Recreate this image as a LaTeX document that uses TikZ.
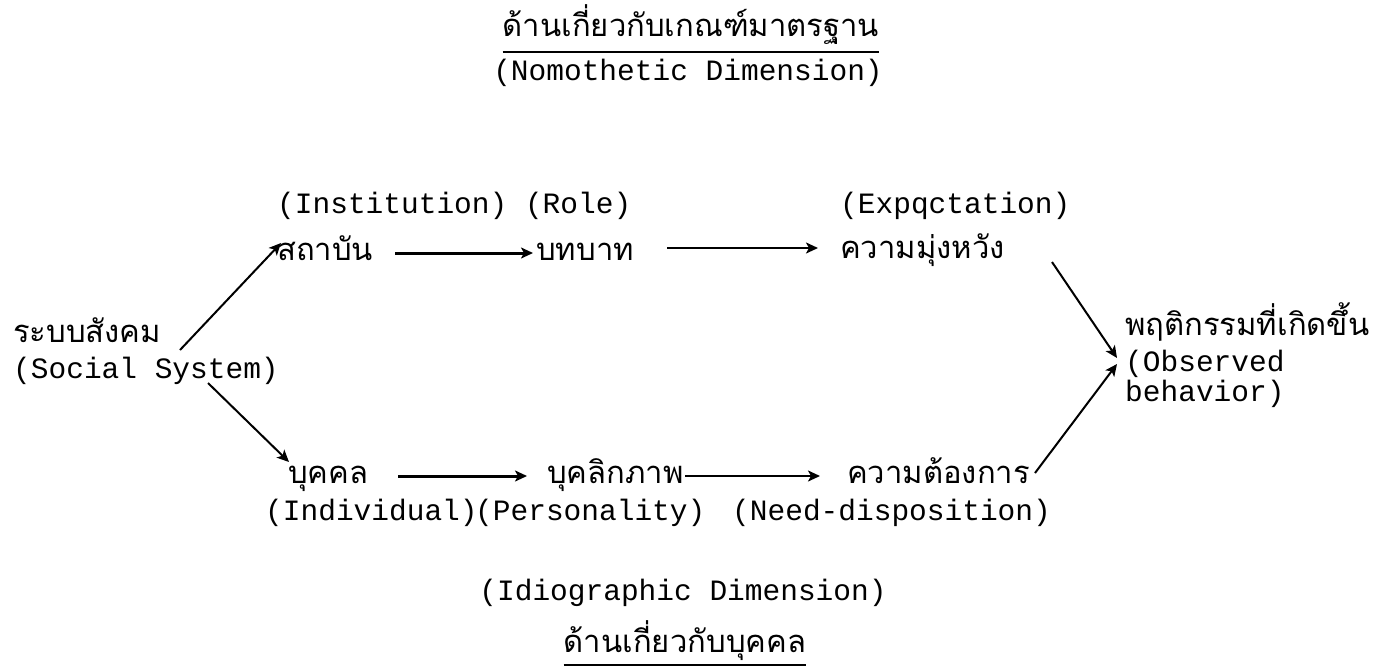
\documentclass[tikz,border=0pt]{standalone}
\usepackage{fontspec}
\usetikzlibrary{arrows.meta}
\newfontfamily\thaifont[Script=Thai]{Loma}
\newfontfamily\monofont{Liberation Mono}
\begin{document}
\begin{tikzpicture}[x=1pt,y=-1pt,
  th/.style={font=\thaifont\fontsize{31}{32}\selectfont, inner sep=0pt, anchor=base west},
  en/.style={font=\monofont\fontsize{29.5}{30}\selectfont, inner sep=0pt, anchor=base west},
  arr/.style={line width=2pt, -{Stealth[length=12pt,width=11pt,inset=3pt]}},
  arrb/.style={line width=3pt, -{Stealth[length=12pt,width=11pt,inset=3pt]}},
  uline/.style={line width=2pt}]
\useasboundingbox (0,0) rectangle (1385,670);
\fill[white] (0,0) rectangle (1385,670);
% headings
\node[th, anchor=base] (ttop) at (691,36) {ด้านเกี่ยวกับเกณฑ์มาตรฐาน};
\node[en, anchor=base] (nomo) at (688,80) {(Nomothetic Dimension)};
\node[en, anchor=base] (idio) at (683,600) {(Idiographic Dimension)};
\node[th, anchor=base] (tbot) at (685,652) {ด้านเกี่ยวกับบุคคล};
\draw[uline] ([yshift=-16pt]ttop.base west) -- ([yshift=-16pt]ttop.base east);
\draw[uline] ([yshift=-13pt]tbot.base west) -- ([yshift=-13pt]tbot.base east);
% left
\node[th] (rabob) at (13,342) {ระบบสังคม};
\node[en] (soceng) at (13,378) {(Social System)};
% top row
\node[en] (insteng) at (277,213) {(Institution) (Role)};
\node[th] (sathaban) at (277,260) {สถาบัน};
\node[th] (bothbat) at (536,260) {บทบาท};
\node[en] (expeng) at (840,213) {(Expqctation)};
\node[th] (khwammung) at (840,258) {ความมุ่งหวัง};
% bottom row
\node[th] (bukkhon) at (288,483) {บุคคล};
\node[th] (bukkhalik) at (547,483) {บุคลิกภาพ};
\node[th] (tongkan) at (847,483) {ความต้องการ};
\node[en] (indeng) at (265,520) {(Individual)};
\node[en] (perseng) at (475,520) {(Personality)};
\node[en] (needeng) at (732,520) {(Need-disposition)};
% right
\node[th] (phruet) at (1125,335) {พฤติกรรมที่เกิดขึ้น};
\node[en] (obs) at (1125,371) {(Observed};
\node[en] (beh) at (1125,401) {behavior)};
% connectors
\draw[arr] ([xshift=167pt,yshift=-8pt]rabob.base west) -- ([xshift=4pt,yshift=17pt]sathaban.base west);
\draw[arr] ([xshift=195pt,yshift=-5pt]soceng.base west) -- ([xshift=1pt,yshift=21pt]bukkhon.base west);
\draw[arrb] ([xshift=118pt,yshift=7pt]sathaban.base west) -- ([xshift=-3pt,yshift=7pt]bothbat.base west);
\draw[arr] ([xshift=131pt,yshift=12pt]bothbat.base west) -- ([xshift=-22pt,yshift=10pt]khwammung.base west);
\draw[arrb] ([xshift=110pt,yshift=7pt]bukkhon.base west) -- ([xshift=-20pt,yshift=7pt]bukkhalik.base west);
\draw[arr] ([xshift=138pt,yshift=7pt]bukkhalik.base west) -- ([xshift=-27pt,yshift=7pt]tongkan.base west);
\draw[arr] ([xshift=212pt,yshift=-4pt]khwammung.base west) -- ([xshift=-8pt,yshift=13pt]obs.base west);
\draw[arr] ([xshift=188pt,yshift=10pt]tongkan.base west) -- ([xshift=-8pt,yshift=7pt]obs.base west);
\end{tikzpicture}
\end{document}
